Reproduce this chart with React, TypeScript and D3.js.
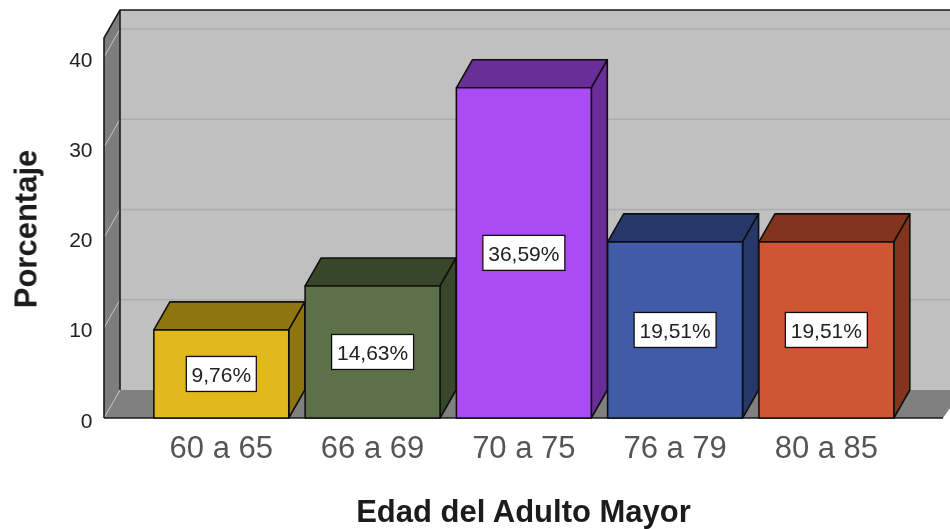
import React from "react";
import * as d3 from "d3";

const categories = ["60 a 65", "66 a 69", "70 a 75", "76 a 79", "80 a 85"];
const values = [9.76, 14.63, 36.59, 19.51, 19.51];
const valueLabels = ["9,76%", "14,63%", "36,59%", "19,51%", "19,51%"];
const frontColors = ["#e2b91a", "#5c7146", "#ab4bf5", "#3f5ca8", "#d05530"];
const topColors = ["#8f7410", "#39462b", "#6b2e99", "#263869", "#82341d"];
const yTicks = [0, 10, 20, 30, 40];

const dx = 16, dy = -28;
const y = d3.scaleLinear().domain([0, 40]).range([418, 57]);
const x = d3.scaleBand<string>().domain(categories).range([145.7, 902]).paddingInner(0.108).paddingOuter(0.054);
const font = "'Liberation Sans', Arial, sans-serif";
const labelW = [70, 82, 82, 82, 82];

export default function App() {
  const yTop = 38, xL = 104, xR = 950;
  return (
    <svg width={950} height={529} style={{ position: "absolute", left: 0, top: 0, background: "#fff" }} fontFamily={font}>
      <defs>
        <filter id="soft" x="-2%" y="-2%" width="104%" height="104%">
          <feGaussianBlur stdDeviation="0.45" />
        </filter>
      </defs>
      <g filter="url(#soft)">
        <rect x={xL + dx} y={yTop + dy} width={xR - xL - dx} height={418 - yTop} fill="#c0c0c0" />
        <path d={`M${xL},${yTop}L${xL + dx},${yTop + dy}V${418 + dy}L${xL},418Z`} fill="#7d7d7d" />
        <path d={`M${xL},418L${xL + dx},${418 + dy}H950V408L943,418Z`} fill="#808080" />
        {yTicks.map(t => (
          <g key={t}>
            {t > 0 && <line x1={xL + dx} x2={xR} y1={y(t) + dy} y2={y(t) + dy} stroke="#acacac" strokeWidth={1.5} />}
            <line x1={xL} x2={xL + dx} y1={y(t)} y2={y(t) + dy} stroke="#c4c4c4" strokeWidth={1} />
          </g>
        ))}
        <path d={`M${xL},418V${yTop}L${xL + dx},${yTop + dy}H${xR}`} fill="none" stroke="#1a1a1a" strokeWidth={1.6} />
        <line x1={xL + dx} x2={xL + dx} y1={yTop + dy} y2={418 + dy} stroke="#1a1a1a" strokeWidth={1.6} />
        <line x1={xL} x2={943} y1={418} y2={418} stroke="#1a1a1a" strokeWidth={1.6} />
        {categories.map((c, i) => {
          const bx = x(c)!, bw = x.bandwidth(), by = y(values[i]);
          return (
            <g key={c} stroke="#111" strokeWidth={1.6} strokeLinejoin="round">
              <path d={`M${bx},${by}l${dx},${dy}h${bw}l${-dx},${-dy}Z`} fill={topColors[i]} />
              <path d={`M${bx + bw},${by}l${dx},${dy}V${418 + dy}L${bx + bw},418Z`} fill={topColors[i]} />
              <rect x={bx} y={by} width={bw} height={418 - by} fill={frontColors[i]} />
            </g>
          );
        })}
        {categories.map((c, i) => {
          const cx = x(c)! + x.bandwidth() / 2, cy = (y(values[i]) + 418) / 2;
          return (
            <g key={c}>
              <rect x={cx - labelW[i] / 2} y={cy - 17.5} width={labelW[i]} height={35} fill="#fff" stroke="#111" strokeWidth={1.3} />
              <text x={cx} y={cy + 8} textAnchor="middle" fontSize={21} fill="#222">{valueLabels[i]}</text>
            </g>
          );
        })}
        {yTicks.map(t => (
          <text key={t} x={92.5} y={y(t) + 9.5} textAnchor="end" fontSize={21} fill="#222">{t}</text>
        ))}
        {categories.map(c => (
          <text key={c} x={x(c)! + x.bandwidth() / 2} y={458} textAnchor="middle" fontSize={31} fill="#555">{c}</text>
        ))}
        <text x={523.5} y={522} textAnchor="middle" fontSize={31} fontWeight="bold" fill="#1a1a1a">Edad del Adulto Mayor</text>
        <text transform="translate(36.5,229) rotate(-90)" textAnchor="middle" fontSize={31} fontWeight="bold" fill="#1a1a1a">Porcentaje</text>
      </g>
    </svg>
  );
}
